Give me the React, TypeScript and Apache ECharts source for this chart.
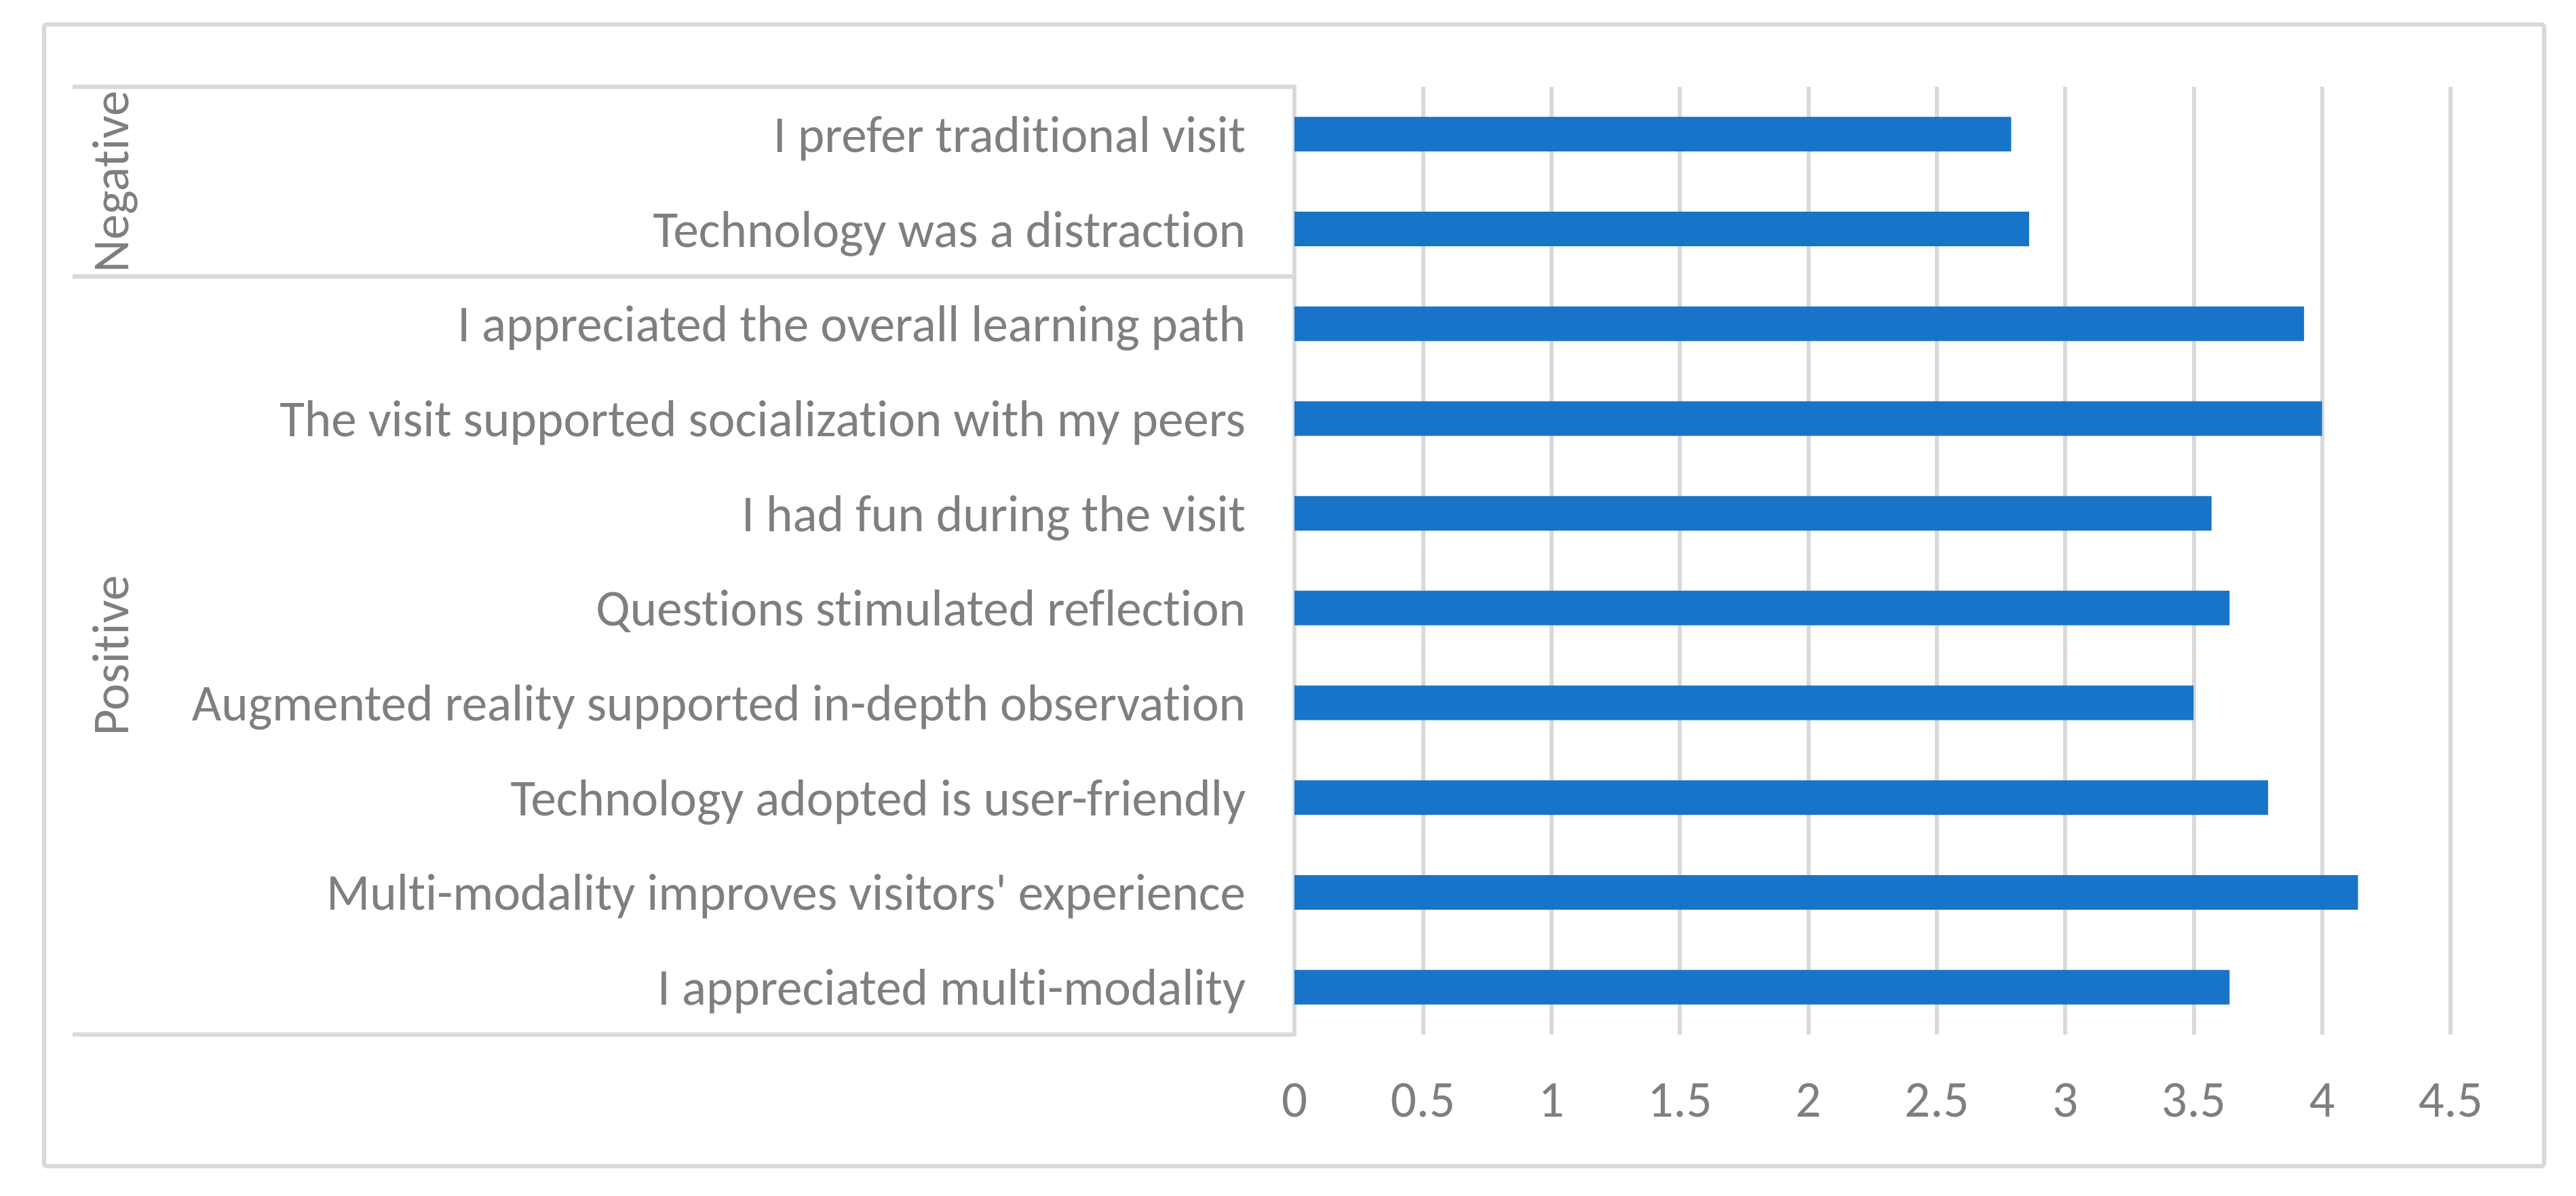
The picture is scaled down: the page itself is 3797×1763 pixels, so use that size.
import React, { useEffect, useRef } from "react";
import * as echarts from "echarts";

// ---- data (top to bottom) ----
const categories: string[] = [
  "I prefer traditional visit",
  "Technology was a distraction",
  "I appreciated the overall learning path",
  "The visit supported socialization with my peers",
  "I had fun during the visit",
  "Questions stimulated reflection",
  "Augmented reality supported in-depth observation",
  "Technology adopted is user-friendly",
  "Multi-modality improves visitors' experience",
  "I appreciated multi-modality",
];
const values: number[] = [2.79, 2.86, 3.93, 4, 3.57, 3.64, 3.5, 3.79, 4.14, 3.64];
const groupNames: string[] = ["Negative", "Positive"];
const groupSizes: number[] = [2, 8];
const xTicks = { min: 0, max: 4.5, interval: 0.5 };

const TEXT = "#7F7F7F";
const LINE = "#D9D9D9";
const BAR = "#1874C8";

function pickFont(): { family: string; size: number } {
  const canvas = document.createElement("canvas");
  const ctx = canvas.getContext("2d")!;
  const probe = "Augmented reality supported in-depth observation";
  const candidates = ["Carlito", "Calibri", "Lato", "Open Sans", "Noto Sans", "Roboto", "DejaVu Sans"];
  let family = "sans-serif";
  for (const c of candidates) {
    ctx.font = `72px "${c}", monospace`;
    const w1 = ctx.measureText(probe).width;
    ctx.font = "72px monospace";
    const w0 = ctx.measureText(probe).width;
    if (Math.abs(w1 - w0) > 0.5) {
      family = c;
      break;
    }
  }
  ctx.font = `72px "${family}"`;
  const w = ctx.measureText(probe).width;
  const target = 1553;
  let size = (72 * target) / w;
  if (size > 76) size = 76;
  return { family, size };
}

export default function App() {
  const ref = useRef<HTMLDivElement>(null);
  useEffect(() => {
    document.body.style.margin = "0";
    const styleEl = document.createElement("style");
    styleEl.textContent =
      "#root text { font-variant-ligatures: none !important; font-feature-settings: 'liga' 0, 'clig' 0 !important; }";
    document.head.appendChild(styleEl);
    const { family, size } = pickFont();
    const chart = echarts.init(ref.current!, undefined, { renderer: "svg" });
    chart.setOption({
      animation: false,
      backgroundColor: "#FFFFFF",
      grid: { left: 1908, right: 185, top: 128, bottom: 238, containLabel: false },
      xAxis: {
        type: "value",
        min: xTicks.min,
        max: xTicks.max,
        interval: xTicks.interval,
        axisLine: { show: false },
        axisTick: { show: false },
        splitLine: { show: true, lineStyle: { color: LINE, width: 6 } },
        axisLabel: {
          color: TEXT,
          fontFamily: family,
          fontSize: size,
          margin: 95,
          verticalAlign: "middle",
          formatter: (v: number) => String(v),
        },
      },
      yAxis: {
        type: "category",
        inverse: true,
        data: categories,
        axisLine: { show: true, lineStyle: { color: LINE, width: 6 } },
        axisTick: { show: false },
        axisLabel: {
          color: TEXT,
          fontFamily: family,
          fontSize: size,
          margin: 72,
          interval: 0,
        },
        splitLine: { show: false },
      },
      series: [
        {
          type: "bar",
          data: values,
          barWidth: "36.5%",
          itemStyle: { color: BAR },
          silent: true,
        },
      ],
    });

    // multi-level category decorations computed from the axis
    const c0 = chart.convertToPixel({ yAxisIndex: 0 }, 0) as number;
    const c1 = chart.convertToPixel({ yAxisIndex: 0 }, 1) as number;
    const band = c1 - c0;
    const top = c0 - band / 2;
    const axisX = chart.convertToPixel({ xAxisIndex: 0 }, 0) as number;
    const leftX = 107;
    const graphics: any[] = [
      {
        type: "rect",
        shape: { x: 65, y: 36, width: 3685, height: 1683, r: 4 },
        style: { fill: "none", stroke: LINE, lineWidth: 6.5 },
        silent: true,
        z: -1,
      },
    ];
    let acc = 0;
    const bounds: number[] = [top];
    groupNames.forEach((name, i) => {
      const gTop = top + acc * band;
      acc += groupSizes[i];
      const gBot = top + acc * band;
      bounds.push(gBot);
      graphics.push({
        type: "text",
        x: 163,
        y: (gTop + gBot) / 2,
        rotation: Math.PI / 2,
        style: {
          text: name,
          fill: TEXT,
          fontFamily: family,
          fontSize: size,
          align: "center",
          verticalAlign: "middle",
        },
        silent: true,
      });
    });
    bounds.forEach((yb) => {
      graphics.push({
        type: "line",
        shape: { x1: leftX, y1: yb, x2: axisX, y2: yb },
        style: { stroke: LINE, lineWidth: 6.5 },
        silent: true,
      });
    });
    chart.setOption({ graphic: graphics });

    return () => {
      chart.dispose();
      styleEl.remove();
    };
  }, []);
  return (
    <div
      ref={ref}
      style={{ position: "absolute", left: 0, top: 0, width: 3797, height: 1763, background: "#fff" }}
    />
  );
}
